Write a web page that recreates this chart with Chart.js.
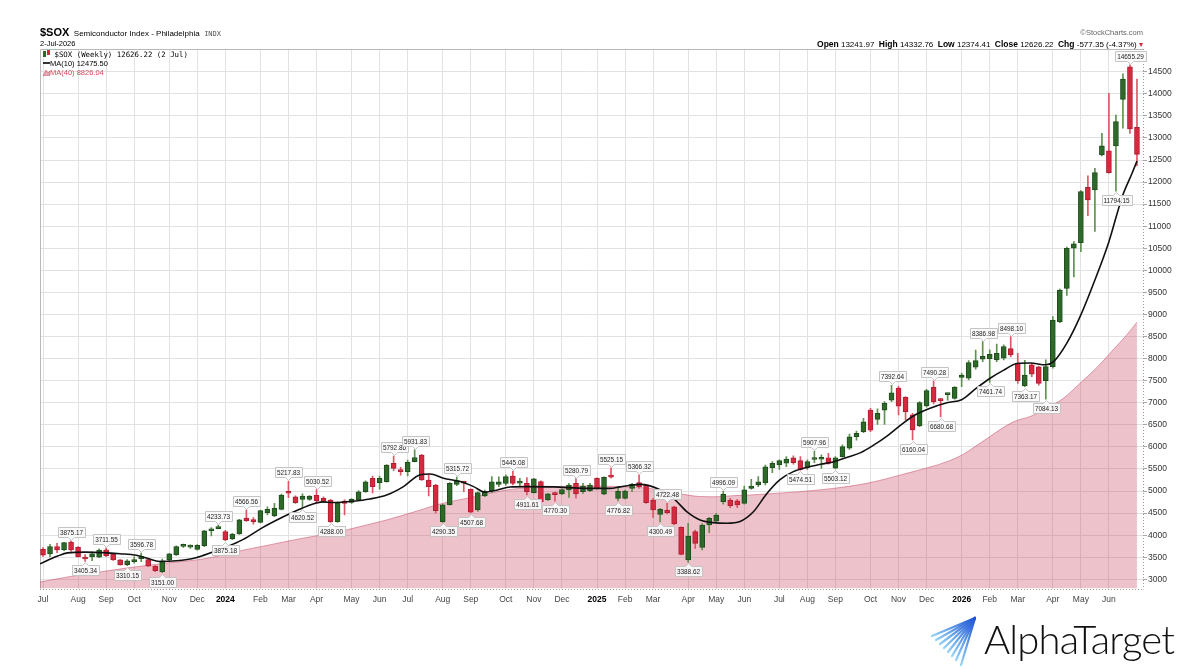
<!DOCTYPE html>
<html lang="en">
<head>
<meta charset="utf-8">
<title>$SOX Semiconductor Index - Philadelphia</title>
<script src="https://cdn.jsdelivr.net/npm/chart.js@4.4.1/dist/chart.umd.min.js"></script>
<style>
  html, body { margin: 0; padding: 0; background: #fff; }
  #page { position: relative; width: 1200px; height: 669px; overflow: hidden;
          font-family: "Liberation Sans", Arial, sans-serif; color: #000; }
  #soxChart { position: absolute; left: 0; top: 0; }
  .txt { position: absolute; white-space: nowrap; line-height: 1; }
  .mono { font-family: "DejaVu Sans Mono", monospace; }
  #ohlc b { font-size: 8.5px; }
  #logoText { position: absolute; left: 984px; top: 619px; font-family: Lato, "Open Sans", sans-serif;
              font-weight: 300; font-size: 40px; line-height: 40px; letter-spacing: -0.8px; color: #111; }
</style>
</head>
<body>
<div id="page">
  <canvas id="soxChart" width="1200" height="669"></canvas>

  <div class="txt" style="left:40px;top:23px;">
    <b style="font-size:11px">$SOX</b>
    <span style="font-size:8px">Semiconductor Index - Philadelphia</span>
    <span class="mono" style="font-size:7px;color:#555">INDX</span>
  </div>
  <div class="txt" style="left:40px;top:39.5px;font-size:7.5px;">2-Jul-2026</div>
  <div class="txt" style="right:57px;top:29px;font-size:7.5px;color:#666;">&copy;StockCharts.com</div>
  <div class="txt" id="ohlc" style="right:57px;top:39.5px;font-size:8px;"></div>

  <div class="txt mono" id="leg1" style="left:43px;top:50px;font-size:7.4px;"></div>
  <div class="txt" id="leg2" style="left:43px;top:59.5px;font-size:7.5px;"></div>
  <div class="txt" id="leg3" style="left:43px;top:69px;font-size:7.5px;color:#d24a5d;"></div>

  <svg style="position:absolute;left:928px;top:614px" width="52" height="54" viewBox="0 0 52 54">
    <defs>
      <linearGradient id="fan" x1="0" y1="1" x2="1" y2="0">
        <stop offset="0" stop-color="#93d3f7"/>
        <stop offset="1" stop-color="#1f52d4"/>
      </linearGradient>
    </defs>
    <g stroke="url(#fan)" stroke-width="2.2" stroke-linecap="round">
      <line x1="47" y1="4" x2="4" y2="22"/>
      <line x1="47" y1="4" x2="8" y2="26"/>
      <line x1="47" y1="4" x2="12" y2="30"/>
      <line x1="47" y1="4" x2="16" y2="34"/>
      <line x1="47" y1="4" x2="20" y2="38"/>
      <line x1="47" y1="4" x2="24" y2="42"/>
      <line x1="47" y1="4" x2="28" y2="46"/>
      <line x1="47" y1="4" x2="33" y2="51"/>
    </g>
  </svg>
  <div id="logoText">AlphaTarget</div>
</div>

<script>
// weekly bars, Monday dates from 3 Jul 2023 to 29 Jun 2026
const firstWeek = Date.UTC(2023, 6, 3);
const weekCount = 157;
const monthNames = ["Jan", "Feb", "Mar", "Apr", "May", "Jun", "Jul", "Aug", "Sep", "Oct", "Nov", "Dec"];

const opens = [
  3680, 3575, 3740, 3665, 3845, 3725, 3500, 3515, 3500, 3670,
  3570, 3440, 3330, 3400, 3470, 3450, 3300, 3175, 3440, 3550,
  3745, 3730, 3680, 3760, 4100, 4150, 4080, 3915, 4030, 4390,
  4355, 4290, 4510, 4435, 4585, 4980, 4870, 4810, 4810, 4905,
  4835, 4795, 4305, 4770, 4740, 4800, 4985, 5290, 5190, 5210,
  5630, 5480, 5440, 5665, 5815, 5250, 5135, 4305, 4690, 5150,
  5200, 5040, 4570, 4890, 5000, 5150, 5175, 5340, 5180, 5175,
  4965, 5215, 4800, 4965, 4935, 5025, 5175, 4985, 5010, 5290,
  4930, 5345, 4835, 4835, 5060, 5190, 5135, 4795, 4470, 4570,
  4645, 4180, 3440, 4080, 3720, 4230, 4320, 4760, 4795, 4780,
  4720, 5060, 5140, 5190, 5530, 5590, 5630, 5755, 5690, 5535,
  5715, 5720, 5755, 5520, 5780, 5970, 6230, 6345, 6835, 6625,
  6835, 7060, 7330, 7125, 6725, 6475, 6930, 7350, 7085, 7185,
  7100, 7575, 7555, 7805, 7985, 8000, 7970, 8010, 8225, 7895,
  7380, 7860, 7815, 7500, 7820, 8840, 9590, 10500, 10625, 11880,
  11820, 12615, 12710, 12820, 13875, 14610, 13241.97
];
const highs = [
  3720, 3790, 3815, 3840, 3875.17, 3740, 3560, 3625, 3690, 3711.55,
  3580, 3450, 3450, 3510, 3596.78, 3470, 3310, 3460, 3590, 3760,
  3800, 3780, 3785, 4110, 4170, 4233.73, 4110, 4040, 4360, 4566.56,
  4400, 4570, 4645, 4720, 4930, 5217.83, 4890, 4935, 4900, 5030.52,
  4870, 4810, 4750, 4800, 4830, 5010, 5230, 5340, 5340, 5600,
  5792.86, 5540, 5700, 5931.83, 5830, 5365, 5150, 4700, 5190, 5315.72,
  5215, 5050, 4980, 5020, 5325, 5320, 5365, 5445.08, 5290, 5305,
  5290, 5230, 4950, 4975, 5050, 5175, 5280.79, 5175, 5175, 5300,
  5320, 5525.15, 5100, 5020, 5175, 5366.32, 5150, 4835, 4610, 4722.48,
  4660, 4190, 4270, 4115, 4265, 4405, 4495, 4996.09, 4835, 4810,
  5115, 5265, 5325, 5590, 5665, 5705, 5780, 5795, 5780, 5705,
  5907.96, 5820, 5855, 5780, 6045, 6290, 6360, 6650, 6875, 6865,
  7025, 7392.64, 7370, 7140, 6760, 7025, 7305, 7490.28, 7100, 7215,
  7365, 7670, 7955, 8195, 8386.98, 8200, 8330, 8310, 8498.10, 8120,
  7960, 7895, 7830, 7970, 8950, 9575, 10525, 10650, 11805, 12140,
  12310, 13105, 14010, 13520, 14450, 14655.29, 14332.76
];
const lows = [
  3520, 3515, 3605, 3650, 3630, 3500, 3405.34, 3420, 3490, 3515,
  3430, 3320, 3310.15, 3365, 3400, 3290, 3175, 3151.00, 3425, 3540,
  3720, 3700, 3660, 3740, 3985, 4140, 3875.18, 3900, 4020, 4310,
  4250, 4280, 4460, 4420, 4570, 4850, 4720, 4620.52, 4790, 4760,
  4740, 4288.00, 4290, 4460, 4720, 4790, 4970, 4960, 5040, 5200,
  5460, 5360, 5340, 5660, 5240, 4890, 4500, 4290.35, 4680, 5120,
  4985, 4507.68, 4540, 4870, 4965, 5100, 5135, 5140, 5115, 4911.61,
  4950, 4740, 4790, 4770.30, 4920, 4855, 4840, 4945, 4985, 5040,
  4920, 5290, 4776.82, 4820, 4985, 5060, 4720, 4405, 4300.49, 4480,
  4240, 3550, 3388.62, 3700, 3665, 4055, 4270, 4705, 4625, 4625,
  4705, 5045, 5100, 5140, 5415, 5490, 5550, 5610, 5474.51, 5490,
  5640, 5510, 5610, 5503.12, 5765, 5945, 6155, 6320, 6345, 6510,
  6510, 7025, 6725, 6610, 6160.04, 6460, 6900, 6975, 6680.68, 7060,
  7080, 7365, 7515, 7760, 7930, 7461.74, 7930, 7970, 8040, 7440,
  7363.17, 7590, 7400, 7084.13, 7785, 8815, 9430, 9850, 10425, 11240,
  10880, 12595, 12200, 11794.15, 13220, 13105, 12374.41
];
const closes = [
  3545, 3740, 3665, 3830, 3665, 3515, 3460, 3575, 3665, 3535,
  3440, 3325, 3420, 3450, 3490, 3300, 3195, 3420, 3575, 3740,
  3765, 3750, 3770, 4100, 4140, 4175, 3890, 4020, 4345, 4330,
  4305, 4555, 4585, 4610, 4910, 4950, 4735, 4885, 4885, 4780,
  4760, 4305, 4735, 4720, 4810, 4985, 5210, 5100, 5290, 5590,
  5515, 5440, 5650, 5760, 5250, 5100, 4555, 4685, 5175, 5235,
  5180, 4520, 4965, 4985, 5210, 5210, 5325, 5175, 5210, 4985,
  5275, 4760, 4935, 4920, 5035, 5135, 4935, 5115, 5135, 5060,
  5310, 5315, 4995, 5000, 5150, 5100, 4735, 4570, 4585, 4510,
  4255, 3565, 3980, 3815, 4230, 4380, 4455, 4925, 4670, 4685,
  5025, 5115, 5210, 5550, 5630, 5690, 5725, 5640, 5490, 5665,
  5750, 5755, 5625, 5755, 6005, 6230, 6305, 6570, 6380, 6760,
  6985, 7225, 6925, 6800, 6385, 7005, 7275, 7025, 7050, 7200,
  7350, 7630, 7910, 7955, 8050, 8100, 8120, 8275, 8085, 7500,
  7630, 7650, 7440, 7820, 8870, 9555, 10500, 10600, 11785, 11595,
  12215, 12820, 12215, 13370, 14335, 13203.57, 12626.22
];

// moving averages at these week positions
const ma10Weeks = [
  -0.43, 2, 3.5, 6, 8.5, 11, 13.3, 15, 16.6, 19, 21.8, 24.2, 26.1, 28.5, 31.3,
  34.2, 36.5, 38.4, 39.9, 41.3, 44.2, 46.6, 49, 51.4, 53.8, 55.2, 57.1, 59.5,
  61.4, 63, 64.7, 66.6, 69, 72.8, 77.5, 80.9, 82.3, 85.1, 88, 89.9, 91.8, 93.7,
  95.6, 97.5, 99.4, 101.3, 103.2, 105.1, 107, 108.9, 110.9, 112.8, 114.7, 116.6,
  118.5, 120.4, 122.2, 124.1, 126.4, 128.9, 131, 133.1, 135, 137, 138.9, 140.8,
  143, 144.1, 146, 148, 150, 152, 153.9, 155.3, 156
];
const ma10Values = [
  3350, 3520, 3600, 3615, 3605, 3580, 3545, 3470, 3405, 3420, 3490, 3620, 3730, 3900, 4170,
  4410, 4580, 4700, 4755, 4740, 4770, 4820, 4910, 5100, 5370, 5385, 5290, 5215,
  5100, 4975, 5020, 5090, 5100, 5095, 5060, 5060, 5095, 5150, 5030, 4835, 4535, 4345,
  4285, 4270, 4310, 4530, 4940, 5260, 5440, 5535, 5605, 5665, 5765, 5870,
  6045, 6250, 6480, 6700, 6870, 7000, 7070, 7330, 7550, 7740, 7890, 7900,
  7860, 7930, 8350, 8990, 9780, 10650, 11670, 12200, 12475.50
];
const ma40Weeks = [
  -0.43, 3.75, 8.5, 13.3, 18, 22.8, 25.6, 27.5, 32.3, 37, 39.5, 41.8, 44.2, 49,
  53.8, 56.1, 58.5, 60.9, 63.3, 65.6, 68, 72.8, 77.5, 82.3, 86.5, 88.9, 91.3, 93.7,
  96, 98.4, 100.8, 103.2, 107.9, 112.7, 117.5, 122.2, 124.1, 128.9, 131.2, 133.6,
  138.4, 140.8, 143.1, 145.5, 147.9, 150.3, 152.6, 154.5, 156
];
const ma40Values = [
  2940, 3060, 3175, 3285, 3375, 3460, 3550, 3625, 3780, 3930, 4000, 4060, 4155, 4345,
  4570, 4685, 4775, 4850, 4935, 5010, 5060, 5100, 5115, 5100, 5060, 4990, 4925, 4875,
  4870, 4895, 4910, 4935, 4985, 5060, 5175, 5360, 5440, 5665, 5830, 6080,
  6570, 6690, 6875, 7100, 7445, 7800, 8200, 8530, 8826.04
];

// price callouts
const markWeeks = [4, 6, 9, 12, 14, 17, 25, 26, 29, 35, 37, 39, 41, 50, 53, 57, 59, 61, 67, 69, 73, 76,
  81, 82, 85, 88, 89, 92, 97, 108, 110, 113, 121, 124, 127, 128, 134, 135, 138, 140, 143, 153, 155];
const markValues = [3875.17, 3405.34, 3711.55, 3310.15, 3596.78, 3151.00, 4233.73, 3875.18, 4566.56,
  5217.83, 4620.52, 5030.52, 4288.00, 5792.86, 5931.83, 4290.35, 5315.72, 4507.68, 5445.08, 4911.61,
  4770.30, 5280.79, 5525.15, 4776.82, 5366.32, 4300.49, 4722.48, 3388.62, 4996.09, 5474.51, 5907.96,
  5503.12, 7392.64, 6160.04, 7490.28, 6680.68, 8386.98, 7461.74, 8498.10, 7363.17, 7084.13, 11794.15,
  14655.29];
const markSides = ["up", "down", "up", "down", "up", "down", "up", "down", "up", "up", "down", "up", "down",
  "up", "up", "down", "up", "down", "up", "down", "down", "up", "up", "down", "up", "down", "up", "down",
  "up", "down", "up", "down", "up", "down", "up", "down", "up", "down", "up", "down", "down", "down", "up"];

const yTickValues = [3000, 3500, 4000, 4500, 5000, 5500, 6000, 6500, 7000, 7500, 8000, 8500, 9000,
  9500, 10000, 10500, 11000, 11500, 12000, 12500, 13000, 13500, 14000, 14500];

const greenBody = "#2d6a29", greenEdge = "#1f4d1c", greenWick = "#5f9150";
const redBody = "#d6283e", redEdge = "#b01e32", redWick = "#df5667";

// month ticks at the first weekly bar of each month
const monthTicks = [];
let prevMonth = -1;
for (let i = 0; i < weekCount; i++) {
  const d = new Date(firstWeek + i * 7 * 86400000);
  const m = d.getUTCMonth();
  if (m !== prevMonth) {
    monthTicks.push({ week: i, label: m === 0 ? String(d.getUTCFullYear()) : monthNames[m] });
    prevMonth = m;
  }
}
const tickLabelAt = {};
monthTicks.forEach((t) => { tickLabelAt[t.week] = t.label; });
const isYearTick = (c) => !!(c && c.tick && /^\d{4}$/.test(tickLabelAt[c.tick.value] || ""));

const isUp = closes.map((c, i) => c >= opens[i]);
const bodyData = opens.map((o, i) => ({ x: i, y: [o, closes[i]] }));
const wickData = lows.map((l, i) => ({ x: i, y: [l, highs[i]] }));

// header texts
const last = weekCount - 1;
const chg = closes[last] - closes[last - 1];
const chgPct = (chg / closes[last - 1]) * 100;
document.getElementById("ohlc").innerHTML =
  `<b>Open</b> ${opens[last].toFixed(2)}&nbsp; <b>High</b> ${highs[last].toFixed(2)}&nbsp; ` +
  `<b>Low</b> ${lows[last].toFixed(2)}&nbsp; <b>Close</b> ${closes[last].toFixed(2)}&nbsp; ` +
  `<b>Chg</b> ${chg.toFixed(2)} (${chgPct.toFixed(2)}%) <span style="color:#d6283e">&#9662;</span>`;
document.getElementById("leg1").innerHTML =
  `<svg width="7" height="8" style="vertical-align:-1px"><rect x="0" y="1" width="3" height="6" fill="${greenBody}"/>` +
  `<rect x="4" y="0" width="3" height="5" fill="${redBody}"/></svg> $SOX (Weekly) ${closes[last].toFixed(2)} (2 Jul)`;
document.getElementById("leg2").innerHTML =
  `<svg width="7" height="6"><line x1="0" y1="3" x2="7" y2="3" stroke="#000" stroke-width="1.6"/></svg>MA(10) ${ma10Values.at(-1).toFixed(2)}`;
document.getElementById("leg3").innerHTML =
  `<svg width="7" height="7" style="vertical-align:-1px"><path d="M0 7 L3 1 L5 4 L7 2 L7 7Z" fill="#e3a9b5" stroke="#d24a5d" stroke-width="0.6"/></svg>MA(40) ${ma40Values.at(-1).toFixed(2)}`;

// frame: solid top/left edges, dotted axis lines right/bottom
const framePlugin = {
  id: "frame",
  beforeDatasetsDraw(chart) {
    const { ctx, chartArea: a } = chart;
    ctx.save();
    ctx.lineWidth = 1;
    ctx.strokeStyle = "#b8b8b8";
    ctx.beginPath();
    ctx.moveTo(a.left + 0.5, a.bottom);
    ctx.lineTo(a.left + 0.5, a.top + 0.5);
    ctx.lineTo(a.right, a.top + 0.5);
    ctx.stroke();
    ctx.strokeStyle = "#9a9a9a";
    ctx.setLineDash([1, 2]);
    ctx.beginPath();
    ctx.moveTo(a.right + 0.5, a.top);
    ctx.lineTo(a.right + 0.5, a.bottom + 1);
    ctx.moveTo(a.left, Math.round(a.bottom) + 0.5);
    ctx.lineTo(a.right, Math.round(a.bottom) + 0.5);
    ctx.stroke();
    ctx.restore();
  }
};

// price labels with a small pointer
const calloutPlugin = {
  id: "callouts",
  afterDatasetsDraw(chart) {
    const { ctx } = chart;
    const xs = chart.scales.x, ys = chart.scales.y;
    const squeeze = 0.8;
    ctx.save();
    ctx.font = '8px "Liberation Sans", Arial, sans-serif';
    ctx.textAlign = "center";
    ctx.textBaseline = "middle";
    ctx.lineWidth = 1;
    markWeeks.forEach((w, k) => {
      const px = Math.round(xs.getPixelForValue(w)) + 0.5;
      const py = ys.getPixelForValue(markValues[k]);
      const txt = markValues[k].toFixed(2);
      const bw = Math.round(ctx.measureText(txt).width * squeeze + 4);
      const bh = 10;
      const up = markSides[k] === "up";
      const top = up ? Math.round(py - 4 - bh) + 0.5 : Math.round(py + 4) + 0.5;
      const left = Math.round(px - bw / 2) + 0.5;
      ctx.beginPath();
      if (up) {
        ctx.moveTo(left, top);
        ctx.lineTo(left + bw, top);
        ctx.lineTo(left + bw, top + bh);
        ctx.lineTo(px + 3, top + bh);
        ctx.lineTo(px, top + bh + 3);
        ctx.lineTo(px - 3, top + bh);
        ctx.lineTo(left, top + bh);
      } else {
        ctx.moveTo(left, top);
        ctx.lineTo(px - 3, top);
        ctx.lineTo(px, top - 3);
        ctx.lineTo(px + 3, top);
        ctx.lineTo(left + bw, top);
        ctx.lineTo(left + bw, top + bh);
        ctx.lineTo(left, top + bh);
      }
      ctx.closePath();
      ctx.fillStyle = "rgba(250,250,250,0.92)";
      ctx.strokeStyle = "#c4c4c4";
      ctx.fill();
      ctx.stroke();
      ctx.save();
      ctx.translate(px, top + bh / 2 + 0.5);
      ctx.scale(squeeze, 1);
      ctx.fillStyle = "#222";
      ctx.fillText(txt, 0, 0);
      ctx.restore();
    });
    ctx.restore();
  }
};

new Chart(document.getElementById("soxChart"), {
  type: "bar",
  data: {
    datasets: [
      {
        type: "line",
        label: "MA(40)",
        data: ma40Weeks.map((w, i) => ({ x: w, y: ma40Values[i] })),
        borderColor: "rgba(200,70,100,0.5)",
        borderWidth: 1,
        backgroundColor: "rgba(196,52,84,0.3)",
        fill: "start",
        pointRadius: 0,
        cubicInterpolationMode: "monotone",
        order: 4
      },
      {
        label: "wick",
        data: wickData,
        backgroundColor: isUp.map((u) => (u ? greenWick : redWick)),
        barThickness: 1,
        grouped: false,
        order: 3
      },
      {
        label: "$SOX",
        data: bodyData,
        backgroundColor: isUp.map((u) => (u ? greenBody : redBody)),
        borderColor: isUp.map((u) => (u ? greenEdge : redEdge)),
        borderWidth: 1,
        borderSkipped: false,
        barThickness: 5,
        minBarLength: 2,
        grouped: false,
        order: 2
      },
      {
        type: "line",
        label: "MA(10)",
        data: ma10Weeks.map((w, i) => ({ x: w, y: ma10Values[i] })),
        borderColor: "#111",
        borderWidth: 1.6,
        pointRadius: 0,
        fill: false,
        cubicInterpolationMode: "monotone",
        order: 1
      }
    ]
  },
  options: {
    responsive: false,
    animation: false,
    devicePixelRatio: 1,
    events: [],
    layout: { padding: { left: 40, top: 49, right: 0, bottom: 0 } },
    plugins: { legend: { display: false }, tooltip: { enabled: false } },
    scales: {
      x: {
        type: "linear",
        offset: false,
        min: -0.43,
        max: 156.86,
        afterBuildTicks: (scale) => { scale.ticks = monthTicks.map((t) => ({ value: t.week })); },
        afterFit: (scale) => { scale.height = 80.5; },
        ticks: {
          autoSkip: false,
          maxRotation: 0,
          padding: 6,
          color: (c) => (isYearTick(c) ? "#000" : "#444"),
          font: (c) => ({
            family: '"Liberation Sans", Arial, sans-serif',
            size: 8.5,
            weight: isYearTick(c) ? "bold" : "normal"
          }),
          callback: (v) => tickLabelAt[v] || ""
        },
        grid: { color: "#e2e2e2", drawTicks: false, offset: false },
        border: { display: false }
      },
      y: {
        type: "linear",
        position: "right",
        min: 2792,
        max: 15015,
        afterBuildTicks: (scale) => { scale.ticks = yTickValues.map((v) => ({ value: v })); },
        afterFit: (scale) => { scale.width = 57; },
        ticks: {
          padding: 1,
          color: "#333",
          font: { family: '"Liberation Sans", Arial, sans-serif', size: 8.5 },
          callback: (v) => String(v)
        },
        grid: { color: "#e2e2e2", tickLength: 4, tickColor: "#a8a8a8" },
        border: { display: false }
      }
    }
  },
  plugins: [framePlugin, calloutPlugin]
});
</script>
</body>
</html>
